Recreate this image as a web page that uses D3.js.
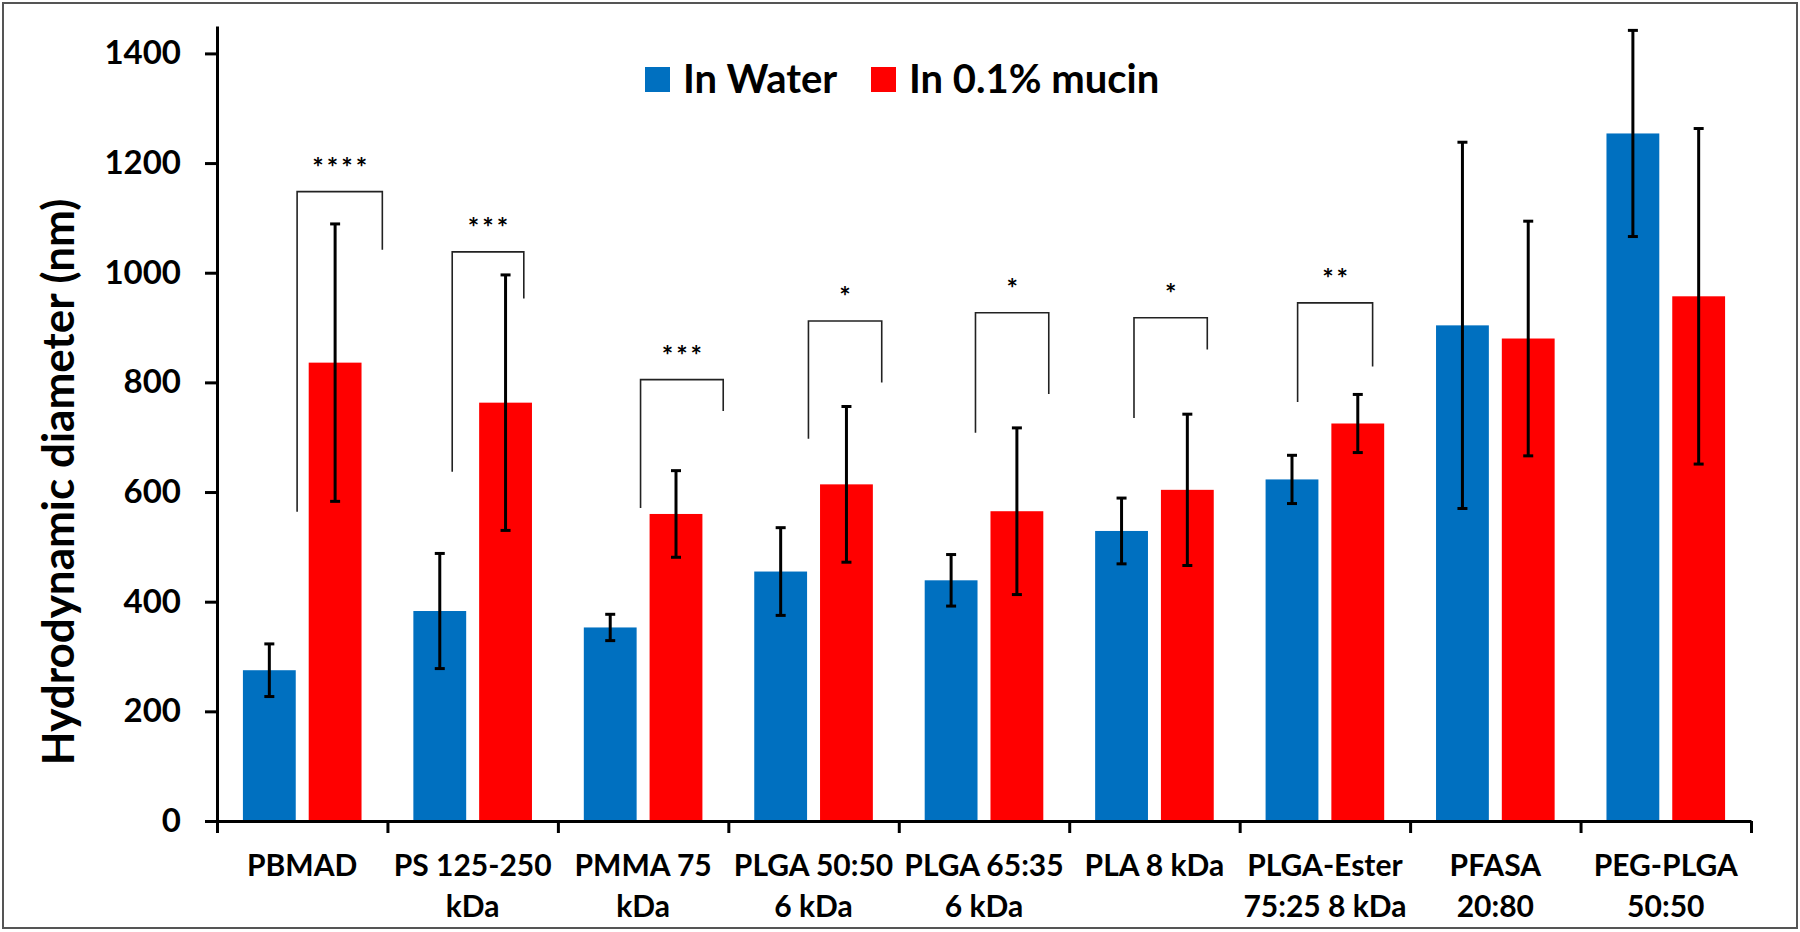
<!DOCTYPE html>
<html>
<head>
<meta charset="utf-8">
<title>Hydrodynamic diameter in water and mucin</title>
<script src="https://cdn.jsdelivr.net/npm/d3@7"></script>
<style>
body { margin:0; background:#fff; }
text { font-family: Lato, "Open Sans", sans-serif; }
</style>
</head>
<body>
<div id="chart"></div>
<script>
// values (nm)
var categories = ["PBMAD", "PS 125-250\nkDa", "PMMA 75\nkDa", "PLGA 50:50\n6 kDa", "PLGA 65:35\n6 kDa",
                  "PLA 8 kDa", "PLGA-Ester\n75:25 8 kDa", "PFASA\n20:80", "PEG-PLGA\n50:50"];
var seriesNames = ["In Water", "In 0.1% mucin"];
var waterMean = [275, 383, 353, 455, 439, 529, 623, 904, 1254];
var waterErr  = [48, 105, 24, 80, 47, 60, 44, 334, 188];
var mucinMean = [836, 763, 560, 614, 565, 604, 725, 880, 957];
var mucinErr  = [253, 233, 79, 142, 152, 138, 53, 214, 306];
var yTicks = [0, 200, 400, 600, 800, 1000, 1200, 1400];

// significance brackets: category, stars, top, left leg end, right leg end (nm), leg spots within the group
var sigCat   = [0, 1, 2, 3, 4, 5, 6];
var sigStars = ["****", "***", "***", "*", "*", "*", "**"];
var sigTop   = [1148, 1038, 805, 912, 927, 918, 945];
var sigLeft  = [564, 637, 571, 697, 708, 735, 764];
var sigRight = [1042, 953, 748, 800, 779, 860, 829];
var sigLegL  = [0.47, 0.38, 0.485, 0.47, 0.45, 0.38, 0.34];
var sigLegR  = [0.97, 0.80, 0.97, 0.90, 0.88, 0.81, 0.78];

var colors = ["#0070C0", "#FF0000"];

var width = 1800, height = 932;
var svg = d3.select("#chart").append("svg")
    .attr("width", width)
    .attr("height", height);

svg.append("rect")
    .attr("x", 3).attr("y", 3)
    .attr("width", width - 6).attr("height", height - 7)
    .attr("fill", "#fff")
    .attr("stroke", "#555")
    .attr("stroke-width", 2);

var x0 = d3.scaleBand().domain(d3.range(categories.length)).range([217, 1751]);
var x1 = d3.scaleBand().domain([0, 1]).range([0, x0.bandwidth()])
    .paddingInner(0.197).paddingOuter(0.394);
var xEdge = d3.scaleLinear().domain([0, categories.length]).range(x0.range());
var y = d3.scaleLinear().domain([0, 1450]).range([821, 26]);

var rows = categories.map(function(c, i) {
    return [{s: 0, v: waterMean[i], e: waterErr[i]},
            {s: 1, v: mucinMean[i], e: mucinErr[i]}];
});

var groups = svg.selectAll("g.cat")
    .data(rows)
    .enter()
    .append("g")
        .attr("class", "cat")
        .attr("transform", function(d, i) { return "translate(" + x0(i) + ",0)"; });

groups.selectAll("rect")
    .data(function(d) { return d; })
    .enter()
    .append("rect")
        .attr("x", function(d) { return x1(d.s); })
        .attr("y", function(d) { return y(d.v); })
        .attr("width", x1.bandwidth())
        .attr("height", function(d) { return y(0) - y(d.v); })
        .attr("fill", function(d) { return colors[d.s]; });

// error bars
var err = groups.selectAll("g.err")
    .data(function(d) { return d; })
    .enter()
    .append("g")
        .attr("class", "err")
        .attr("stroke", "#000")
        .attr("stroke-width", 3);
err.append("line")
    .attr("x1", function(d) { return x1(d.s) + x1.bandwidth() / 2; })
    .attr("x2", function(d) { return x1(d.s) + x1.bandwidth() / 2; })
    .attr("y1", function(d) { return y(d.v - d.e); })
    .attr("y2", function(d) { return y(d.v + d.e); });
[-1, 1].forEach(function(sign) {
    err.append("line")
        .attr("x1", function(d) { return x1(d.s) + x1.bandwidth() / 2 - 5; })
        .attr("x2", function(d) { return x1(d.s) + x1.bandwidth() / 2 + 5; })
        .attr("y1", function(d) { return y(d.v + sign * d.e); })
        .attr("y2", function(d) { return y(d.v + sign * d.e); });
});

// axes
var yAxis = svg.append("g")
    .attr("transform", "translate(217,0)")
    .call(d3.axisLeft(y).tickValues(yTicks).tickFormat(d3.format("d"))
          .tickSize(12).tickSizeOuter(0).tickPadding(24));
yAxis.select(".domain").attr("stroke-width", 3);
yAxis.selectAll(".tick line").attr("stroke-width", 3);
yAxis.selectAll(".tick text")
    .attr("font-size", 33)
    .attr("font-weight", 700)
    .attr("fill", "#000");

var xAxis = svg.append("g")
    .attr("transform", "translate(0," + y(0) + ")")
    .call(d3.axisBottom(xEdge).tickValues(d3.range(categories.length + 1))
          .tickFormat("").tickSize(12).tickSizeOuter(0));
xAxis.select(".domain").attr("stroke-width", 3);
xAxis.selectAll(".tick line").attr("stroke-width", 3);

var labels = svg.selectAll("text.catlab")
    .data(categories)
    .enter()
    .append("text")
        .attr("class", "catlab")
        .attr("text-anchor", "middle")
        .attr("font-size", 30)
        .attr("font-weight", 700)
        .attr("x", function(d, i) { return x0(i) + x0.bandwidth() / 2; })
        .attr("y", y(0) + 55);
labels.selectAll("tspan")
    .data(function(d) { return d.split("\n"); })
    .enter()
    .append("tspan")
        .attr("x", function() { return this.parentNode.getAttribute("x"); })
        .attr("dy", function(d, i) { return i === 0 ? 0 : 41; })
        .text(function(d) { return d; });

svg.append("text")
    .attr("transform", "translate(74," + 482 + ") rotate(-90)")
    .attr("text-anchor", "middle")
    .attr("font-size", 44)
    .attr("font-weight", 700)
    .text("Hydrodynamic diameter (nm)");

// significance brackets
var sig = svg.selectAll("g.sig")
    .data(sigCat)
    .enter()
    .append("g")
        .attr("class", "sig");
sig.append("path")
    .attr("fill", "none")
    .attr("stroke", "#222")
    .attr("stroke-width", 1.6)
    .attr("d", function(c, i) {
        var xl = x0(c) + sigLegL[i] * x0.bandwidth(),
            xr = x0(c) + sigLegR[i] * x0.bandwidth();
        return "M" + xl + "," + y(sigLeft[i]) + "V" + y(sigTop[i]) +
               "H" + xr + "V" + y(sigRight[i]);
    });
sig.append("text")
    .attr("text-anchor", "middle")
    .attr("font-size", 27)
    .attr("font-weight", 700)
    .attr("letter-spacing", 3)
    .attr("x", function(c, i) { return x0(c) + (sigLegL[i] + sigLegR[i]) / 2 * x0.bandwidth() + 1.5; })
    .attr("y", function(c, i) { return y(sigTop[i]) - 15; })
    .text(function(c, i) { return sigStars[i]; });

// legend
var legend = svg.selectAll("g.leg")
    .data(seriesNames)
    .enter()
    .append("g")
        .attr("class", "leg")
        .attr("transform", function(d, i) { return "translate(" + (i === 0 ? 645 : 871) + ",0)"; });
legend.append("rect")
    .attr("x", 0).attr("y", 67)
    .attr("width", 25).attr("height", 25)
    .attr("fill", function(d, i) { return colors[i]; });
legend.append("text")
    .attr("x", 38).attr("y", 93)
    .attr("font-size", 40)
    .attr("font-weight", 700)
    .text(function(d) { return d; });
</script>
</body>
</html>
